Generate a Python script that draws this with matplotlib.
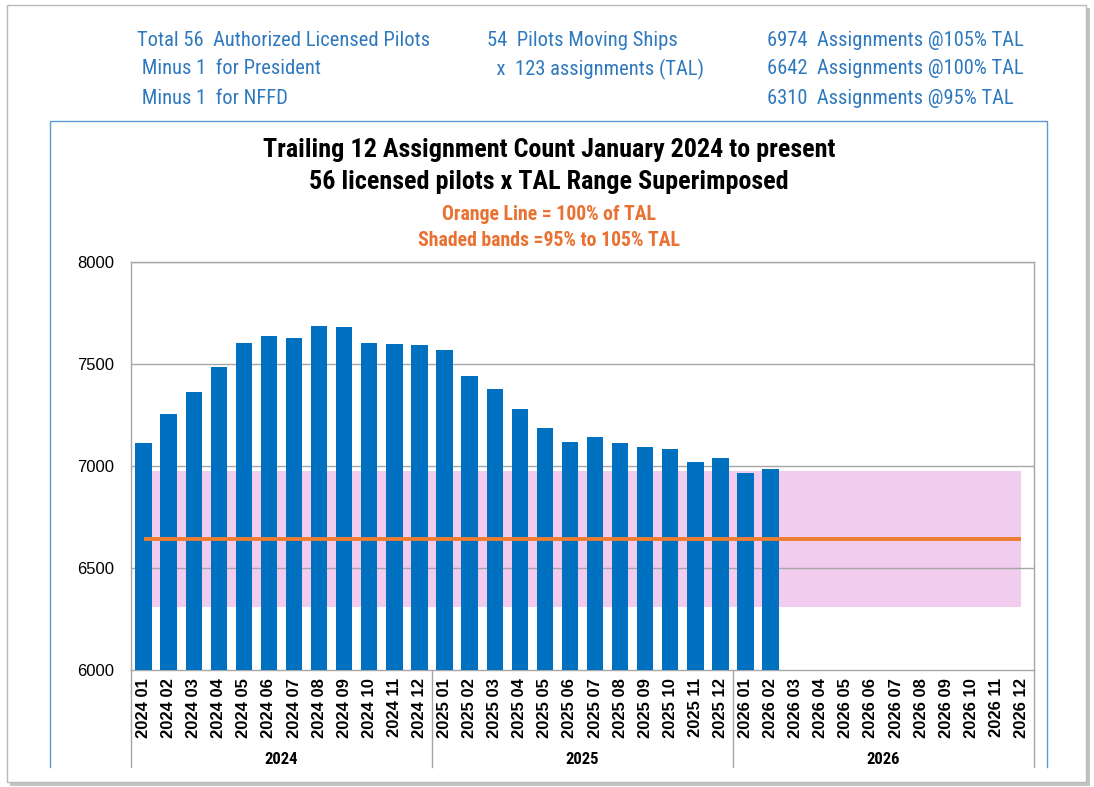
import matplotlib
matplotlib.use("Agg")
import matplotlib.pyplot as plt
import matplotlib.transforms as mtransforms
from matplotlib import font_manager
from matplotlib.patches import Rectangle
from matplotlib.lines import Line2D
import numpy as np

# ---------------- data ----------------
years = ["2024", "2025", "2026"]
months = ["01", "02", "03", "04", "05", "06", "07", "08", "09", "10", "11", "12"]
categories = [f"{y} {m}" for y in years for m in months]

counts_2024 = [7114, 7256, 7364, 7485, 7603, 7639, 7629, 7688, 7683, 7603, 7596, 7591]
counts_2025 = [7570, 7443, 7379, 7278, 7188, 7118, 7141, 7113, 7092, 7082, 7018, 7039]
counts_2026 = [6964, 6985]

tal_105 = 6974
tal_100 = 6642
tal_95 = 6310

y_ticks = [6000, 6500, 7000, 7500, 8000]

header_col1 = ["Total 56  Authorized Licensed Pilots", " Minus 1  for President", " Minus 1  for NFFD"]
header_col2 = ["54  Pilots Moving Ships", "  x  123 assignments (TAL)"]
header_col3 = [f"{tal_105}  Assignments @105% TAL", f"{tal_100}  Assignments @100% TAL",
               f"{tal_95}  Assignments @95% TAL"]

title_lines = ["Trailing 12 Assignment Count January 2024 to present",
               "56 licensed pilots x TAL Range Superimposed"]
subtitle_lines = ["Orange Line = 100% of TAL", "Shaded bands =95% to 105% TAL"]

# ---------------- fonts ----------------
names = {f.name for f in font_manager.fontManager.ttflist}
narrow_pick = None
for cand in ["Liberation Sans Narrow", "Roboto Condensed", "Open Sans Condensed",
             "Noto Sans Condensed", "Noto Sans Display Condensed"]:
    if cand in names:
        narrow_pick = cand
        break
ARIAL = ["Liberation Sans", "DejaVu Sans"]
NARROW = [narrow_pick, "Liberation Sans", "DejaVu Sans"] if narrow_pick else ARIAL
scale = 1.08 if narrow_pick else 1.0

# ---------------- figure ----------------
W, H = 1094, 787
fig = plt.figure(figsize=(W / 100, H / 100), dpi=100)
fig.patch.set_facecolor("white")


def fx(px):
    return px / W


def fy(py):
    return 1 - py / H


# outer page frame with shadow
fig.add_artist(Rectangle((fx(10), fy(786)), fx(1090) - fx(10), fy(8) - fy(786),
                         transform=fig.transFigure, facecolor="#C4C4C4", edgecolor="none", zorder=-3))
fig.add_artist(Rectangle((fx(7), fy(782)), fx(1086) - fx(7), fy(5) - fy(782),
                         transform=fig.transFigure, facecolor="white", edgecolor="#B8B8B8",
                         linewidth=1.0, zorder=-2))

# inner blue chart box (open at bottom)
blue = "#5B9BD5"
fig.add_artist(Line2D([fx(50), fx(50), fx(1047), fx(1047)], [fy(767), fy(121), fy(121), fy(767)],
                      transform=fig.transFigure, color=blue, linewidth=1.0))

# header text
hdr_color = "#2E78BE"
rows_y = [41, 69, 98]
hs = 13.7 * scale
for i, t in enumerate(header_col1):
    fig.text(fx(137), fy(rows_y[i]), t, ha="left", va="center", fontsize=hs,
             family=NARROW, color=hdr_color)
for i, t in enumerate(header_col2):
    fig.text(fx(487), fy(rows_y[i]), t, ha="left", va="center", fontsize=hs,
             family=NARROW, color=hdr_color)
for i, t in enumerate(header_col3):
    fig.text(fx(767), fy(rows_y[i]), t, ha="left", va="center", fontsize=hs,
             family=NARROW, color=hdr_color)

# titles
for t, yy in zip(title_lines, [150, 182]):
    fig.text(fx(549), fy(yy), t, ha="center", va="center", fontsize=17.4 * scale,
             family=NARROW, fontweight="bold", color="black")
for t, yy in zip(subtitle_lines, [215, 240]):
    fig.text(fx(549), fy(yy), t, ha="center", va="center", fontsize=13.2 * scale,
             family=NARROW, fontweight="bold", color="#E97132")

# ---------------- axes ----------------
ax = fig.add_axes([fx(131), fy(670), fx(1034) - fx(131), fy(262) - fy(670)])
ax.set_facecolor("white")

x = np.arange(len(categories))
values = counts_2024 + counts_2025 + counts_2026
xb = np.arange(len(values))

ax.fill_between(x, tal_95, tal_105, color="#F1CCEF", linewidth=0, zorder=1)
for yt in y_ticks[1:]:
    ax.axhline(yt, color="#A6A6A6", linewidth=1.0, zorder=2)
ax.bar(xb, values, width=0.65, color="#0070C0", zorder=3)
ax.plot(x, [tal_100] * len(x), color="#ED7D31", linewidth=2.8, zorder=4, solid_capstyle="butt")

ax.set_xlim(-0.5, len(categories) - 0.5)
ax.set_ylim(6000, 8000)
ax.set_yticks(y_ticks)
ax.set_yticklabels([str(v) for v in y_ticks], family=ARIAL, fontsize=12)
ax.set_xticks(x)
ax.set_xticklabels(categories, rotation=90, family=ARIAL, fontweight="bold", fontsize=12)
ax.tick_params(axis="x", length=0, pad=6)
ax.tick_params(axis="y", length=0, pad=12)
for s in ax.spines.values():
    s.set_color("#A6A6A6")
    s.set_linewidth(1.0)

# group separators and year labels
trans = mtransforms.blended_transform_factory(ax.transData, ax.transAxes)
sep_bottom = -(767 - 670) / (670 - 262)
for xs in [-0.5, 11.5, 23.5, 35.5]:
    ax.add_line(Line2D([xs, xs], [0, sep_bottom], transform=trans, color="#A6A6A6",
                       linewidth=1.0, clip_on=False))
year_y = -(760 - 670) / (670 - 262)
for i, yr in enumerate(years):
    ax.text(i * 12 + 5.5, year_y, yr, transform=trans, ha="center", va="center",
            family=NARROW, fontweight="bold", fontsize=12)

fig.savefig("out.png", dpi=100, facecolor="white")
